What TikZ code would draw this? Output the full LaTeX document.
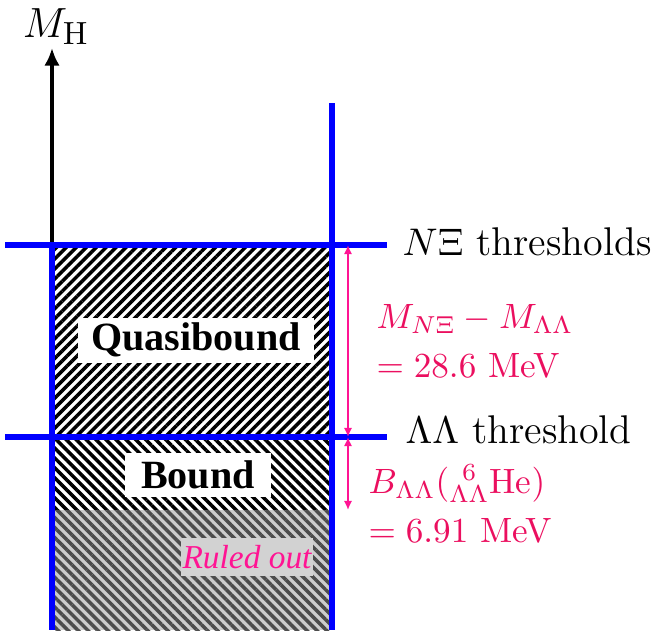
\documentclass[tikz,border=0pt]{standalone}
\usepackage{amsmath}
\usepackage{fontspec}
\newfontfamily\timesfont{Liberation Serif}
\usepackage{tikz}
\usetikzlibrary{arrows.meta,patterns.meta}
\definecolor{arrowpink}{RGB}{255,20,147}
\definecolor{textpink}{RGB}{235,15,95}

\tikzset{
  levelline/.style={blue, line width=1.5pt},
  hatchup/.style={pattern={Lines[angle=45,distance=2pt,line width=1pt]}},
  hatchdown/.style={pattern={Lines[angle=-45,distance=2pt,line width=1pt]}},
  gaparrow/.style={arrowpink, line width=0.65pt, {Latex[length=2.6pt,width=2.4pt]}-{Latex[length=2.6pt,width=2.4pt]}},
  thrlabel/.style={anchor=base west, font=\fontsize{11.4}{14}\selectfont},
  gaplabel/.style={anchor=base west, text=textpink, font=\fontsize{10}{12}\selectfont},
  regionbox/.style={fill=white, font=\timesfont\bfseries\fontsize{11.4}{14}\selectfont}
}

\begin{document}
\begin{tikzpicture}[x=0.01cm, y=-0.01cm, >=Latex, every node/.style={inner sep=0pt}]
\useasboundingbox (0,0) rectangle (660,632);

% hatched regions
\fill[hatchup] (52,245) rectangle (332,437);
\fill[hatchdown] (52,437) rectangle (332,510);
\fill[gray!40] (52,510) rectangle (332,630);
\fill[hatchdown, pattern color=black!70] (52,510) rectangle (332,630);

% axis
\coordinate (axbot) at (52,630);
\coordinate (axtop) at (52,48);
\draw[line width=1.1pt, -{Latex[length=5pt,width=4.4pt]}] (axbot) -- (axtop);
\node[anchor=base, font=\fontsize{13}{16}\selectfont] (mh) at (56,37) {$M_{\mathrm{H}}$};

% levels
\coordinate (nxil) at (5,245);
\coordinate (nxir) at (387,245);
\coordinate (lll) at (5,437);
\coordinate (llr) at (387,437);
\coordinate (lefttop) at (52,245);
\coordinate (leftbot) at (52,630);
\coordinate (righttop) at (332,103);
\coordinate (rightbot) at (332,630);
\draw[levelline] (lefttop) -- (leftbot);
\draw[levelline] (righttop) -- (rightbot);
\draw[levelline] (nxil) -- (nxir);
\draw[levelline] (lll) -- (llr);

\node[thrlabel] (nxi) at (402,255) {$N\Xi$ thresholds};
\node[thrlabel] (ll) at (405,443) {$\Lambda\Lambda$ threshold};

% region labels
\node[regionbox, minimum width=2.36cm, minimum height=0.45cm] (quasi) at (196,340) {Quasibound};
\node[regionbox, minimum width=1.45cm, minimum height=0.44cm] (bound) at (198,475) {Bound};
\node[fill=gray!35, text=arrowpink, minimum width=1.31cm, minimum height=0.38cm,
      font=\timesfont\itshape\fontsize{9.5}{12}\selectfont] (ruled) at (247,557) {Ruled out};

% gaps
\coordinate (g1) at (348,245);
\coordinate (g2) at (348,437);
\coordinate (g3) at (348,510);
\draw[gaparrow] (g1) -- (g2);
\draw[gaparrow] (g2) -- (g3);

\node[gaplabel] (mdiff) at (376,328) {$M_{N\Xi}-M_{\Lambda\Lambda}$};
\node[gaplabel] (mval) at (376,377) {$=28.6$ MeV};
\node[gaplabel] (bll) at (368,493) {$B_{\Lambda\Lambda}({}^{\;\,6}_{\Lambda\Lambda}\mathrm{He})$};
\node[gaplabel] (bval) at (368,542) {$=6.91$ MeV};
\end{tikzpicture}
\end{document}
